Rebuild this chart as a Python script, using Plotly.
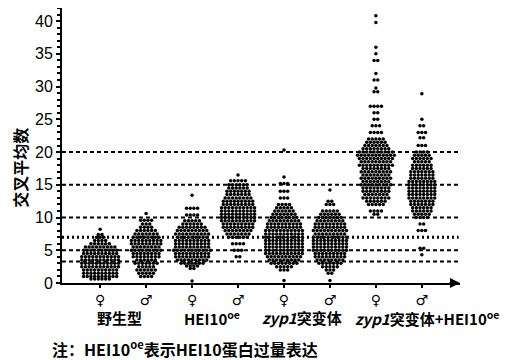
import plotly.graph_objects as go

# ---- data: value levels and number of cells at each level, per group ----
group_positions = [0, 1, 2, 3, 4, 5, 6, 7]
sex_labels = ["♀", "♂", "♀", "♂", "♀", "♂", "♀", "♂"]
group_names = ["野生型", "HEI10<sup>oe</sup>", "<i>zyp1</i>突变体", "<i>zyp1</i>突变体+HEI10<sup>oe</sup>"]
ref_lines = [3.3, 5, 10, 15, 20]
dotted_line = [7]

wt_f_vals = [0.6, 1.0, 1.5, 2.0, 2.5, 3.0, 3.5, 4.0, 4.5, 5.0, 5.5, 6.0, 6.5, 7.0, 7.4, 8.2]
wt_f_cnts = [6, 10, 10, 10, 11, 11, 11, 11, 10, 10, 9, 6, 4, 3, 2, 1]

wt_m_vals = [1.0, 1.5, 2.0, 2.5, 3.0, 3.5, 4.0, 4.5, 5.0, 5.5, 6.0, 6.5, 7.0, 7.5, 8.0, 8.5, 9.0, 9.6, 10.6]
wt_m_cnts = [4, 5, 6, 5, 7, 6, 8, 8, 9, 8, 9, 9, 8, 7, 6, 4, 3, 4, 1]

hei_f_vals = [0.3, 2.2, 2.6, 3.0, 3.5, 4.0, 4.5, 5.0, 5.5, 6.0, 6.5, 7.0, 7.5, 8.0, 8.5, 9.0, 9.5, 10.4, 11.4, 13.4]
hei_f_cnts = [1, 2, 4, 7, 9, 10, 10, 11, 10, 10, 10, 9, 10, 9, 8, 6, 5, 4, 4, 1]

hei_m_vals = [4.0, 5.0, 6.0, 7.0, 7.5, 8.0, 8.5, 9.0, 9.5, 10.0, 10.5, 11.0, 11.5, 12.0, 12.5, 13.0, 13.5, 14.0, 14.5, 15.0, 15.6, 16.5]
hei_m_cnts = [2, 3, 4, 6, 7, 8, 9, 9, 10, 10, 10, 10, 10, 9, 9, 8, 7, 7, 6, 6, 5, 1]

zyp_f_vals = [0.4, 2.0, 2.5, 3.0, 3.5, 4.0, 4.5, 5.0, 5.5, 6.0, 6.5, 7.0, 7.5, 8.0, 8.5, 9.0, 9.5, 10.0, 10.5, 11.0, 11.5, 12.0, 13.0, 14.0, 15.2, 16.2, 20.3]
zyp_f_cnts = [1, 3, 5, 8, 9, 10, 11, 11, 11, 11, 11, 11, 11, 11, 10, 10, 9, 8, 7, 6, 5, 4, 3, 3, 3, 1, 1]

zyp_m_vals = [0.4, 1.5, 2.0, 2.5, 3.0, 3.5, 4.0, 4.5, 5.0, 5.5, 6.0, 6.5, 7.0, 7.5, 8.0, 8.5, 9.0, 9.5, 10.0, 10.5, 11.0, 12.0, 12.5, 14.2]
zyp_m_cnts = [1, 2, 3, 5, 7, 8, 9, 9, 10, 10, 10, 10, 10, 9, 10, 9, 9, 8, 7, 6, 5, 3, 2, 1]

zh_f_vals = [10.5, 11.0, 12.0, 12.5, 13.0, 13.5, 14.0, 14.5, 15.0, 15.5, 16.0, 16.5, 17.0, 17.5, 18.0, 18.5, 19.0, 19.5, 20.0, 20.5, 21.0, 21.5, 22.0, 23.0, 24.0, 25.0, 26.0, 27.0, 29.2, 29.8, 31.0, 32.0, 34.0, 35.0, 36.0, 39.8, 40.8]
zh_f_cnts = [2, 4, 5, 6, 8, 7, 8, 8, 9, 8, 9, 8, 9, 8, 10, 9, 10, 11, 10, 8, 7, 6, 5, 4, 3, 2, 2, 4, 2, 1, 2, 1, 2, 1, 1, 1, 1]

zh_m_vals = [4.3, 5.3, 8.0, 9.0, 10.0, 10.5, 11.0, 11.5, 12.0, 12.5, 13.0, 13.5, 14.0, 14.5, 15.0, 15.5, 16.0, 16.5, 17.0, 17.5, 18.0, 18.5, 19.0, 19.5, 20.0, 21.0, 22.2, 23.0, 24.0, 25.0, 28.9]
zh_m_cnts = [1, 2, 3, 2, 4, 5, 6, 6, 7, 7, 8, 8, 8, 8, 8, 8, 7, 7, 7, 6, 6, 5, 6, 5, 4, 3, 2, 3, 2, 1, 1]

groups = [
    (wt_f_vals, wt_f_cnts), (wt_m_vals, wt_m_cnts),
    (hei_f_vals, hei_f_cnts), (hei_m_vals, hei_m_cnts),
    (zyp_f_vals, zyp_f_cnts), (zyp_m_vals, zyp_m_cnts),
    (zh_f_vals, zh_f_cnts), (zh_m_vals, zh_m_cnts),
]

# ---- beeswarm-style layout: dots at same level spread sideways ----
step = 0.08
xs, ys = [], []
for pos, (vals, cnts) in zip(group_positions, groups):
    for v, n in zip(vals, cnts):
        for k in range(n):
            xs.append(pos + (k - (n - 1) / 2) * step)
            ys.append(v)

fig = go.Figure()
fig.add_trace(go.Scatter(
    x=xs, y=ys, mode="markers",
    marker=dict(color="black", size=3.5, line=dict(width=0)),
    showlegend=False, hoverinfo="skip",
))

XMIN, XMAX = -0.83, 7.83
shapes = []
for v in ref_lines:
    shapes.append(dict(type="line", xref="x", yref="y", x0=XMIN, x1=7.8, y0=v, y1=v,
                       line=dict(color="black", width=2, dash="4px,3px"), layer="above"))
for v in dotted_line:
    shapes.append(dict(type="line", xref="x", yref="y", x0=XMIN, x1=7.8, y0=v, y1=v,
                       line=dict(color="black", width=3, dash="2px,3px"), layer="above"))

cjk = "Noto Sans CJK SC, DejaVu Sans, sans-serif"
annotations = []
name_left = [-0.11, 1.78, 3.48, 5.5]
for nx, nm in zip(name_left, group_names):
    annotations.append(dict(x=nx, y=-0.127, xref="x", yref="paper", text="<b>" + nm + "</b>",
                            showarrow=False, font=dict(family=cjk, size=15, color="black"),
                            xanchor="left", yanchor="middle"))
annotations.append(dict(x=-0.106, y=0.418, xref="paper", yref="paper", text="<b>交叉平均数</b>",
                        textangle=-90, showarrow=False, xanchor="center", yanchor="middle",
                        font=dict(family=cjk, size=16, color="black")))
annotations.append(dict(x=-0.030, y=-0.238, xref="paper", yref="paper",
                        text="<b>注：HEI10<sup>oe</sup>表示HEI10蛋白过量表达</b>",
                        showarrow=False, xanchor="left", yanchor="middle",
                        font=dict(family=cjk, size=16, color="black")))
# arrow at end of x axis
annotations.append(dict(x=XMAX, y=0, xref="x", yref="y", ax=-12, ay=0, text="",
                        showarrow=True, arrowhead=2, arrowsize=1, arrowwidth=2,
                        arrowcolor="black"))

# the page body adds an 8px offset, so the figure is 8px smaller and margins shifted
fig.update_layout(
    width=508, height=352,
    margin=dict(l=54, r=56, t=0, b=77),
    paper_bgcolor="white", plot_bgcolor="white",
    shapes=shapes, annotations=annotations,
    xaxis=dict(range=[XMIN, XMAX], tickmode="array", tickvals=group_positions,
               ticktext=["<b>" + s + "</b>" for s in sex_labels],
               showline=True, linecolor="black", linewidth=2, showgrid=False, zeroline=False,
               ticks="outside", ticklen=3, tickwidth=2, tickcolor="black",
               tickfont=dict(family="DejaVu Sans", size=14, color="black")),
    yaxis=dict(range=[0, 42], tickmode="array", tickvals=[0, 5, 10, 15, 20, 25, 30, 35, 40],
               showline=True, linecolor="black", linewidth=2, showgrid=False, zeroline=False,
               ticks="outside", ticklen=4, tickwidth=2, tickcolor="black",
               minor=dict(dtick=1, ticks="outside", ticklen=3, tickwidth=1.5, tickcolor="black"),
               tickfont=dict(family="Liberation Sans Narrow, Arial Narrow, Liberation Sans", size=16, color="black")),
)

fig.write_html("out.html")
